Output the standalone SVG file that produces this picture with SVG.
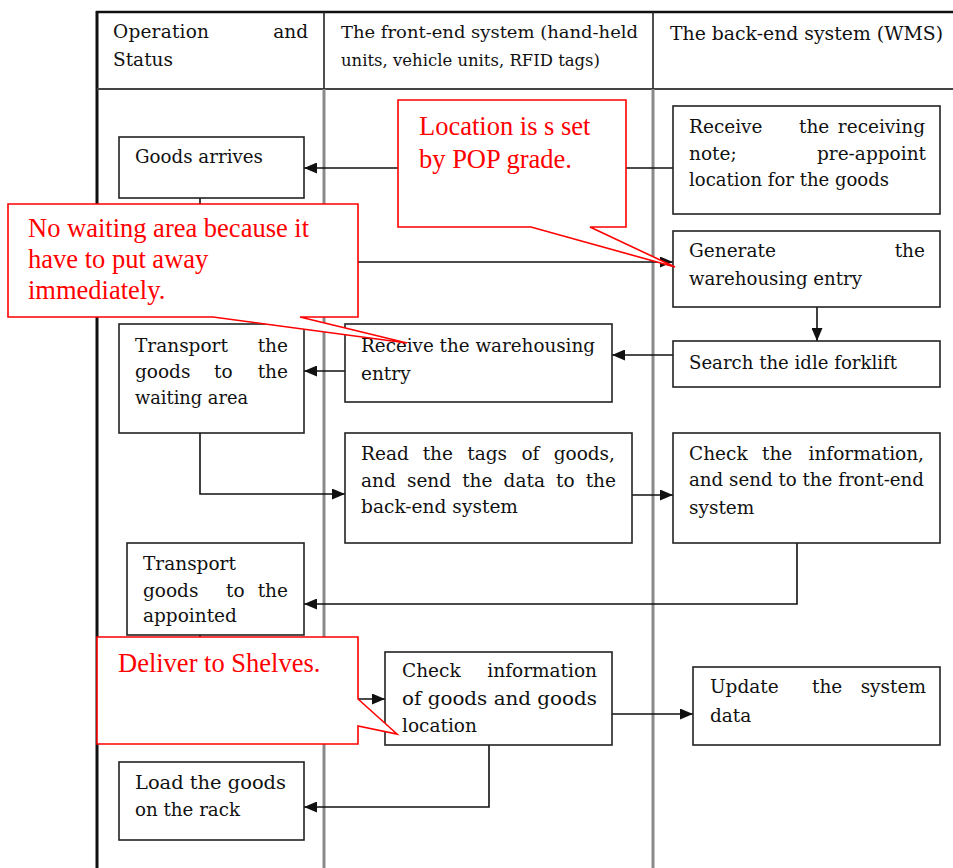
<svg xmlns="http://www.w3.org/2000/svg" width="953" height="868" viewBox="0 0 953 868">
  <style>
    .t { font-family: "DejaVu Serif", "Liberation Serif", serif; font-size: 18.5px; fill: #111; }
    .h { font-family: "DejaVu Serif", "Liberation Serif", serif; font-size: 16.5px; fill: #111; }
    .box { fill: #fff; stroke: #222; stroke-width: 1.6; }
    .conn { fill: none; stroke: #111; stroke-width: 1.6; }
    .note { fill: #fff; stroke: #f00; stroke-width: 1.6; stroke-linejoin: miter; }
    .nt { font-family: "Liberation Serif", "Times New Roman", serif; font-size: 26.5px; fill: #f00; }
    .e { text-anchor: end; }
  </style>
  <defs>
    <marker id="arrow" markerUnits="userSpaceOnUse" markerWidth="14" markerHeight="11" refX="13" refY="5.5" orient="auto">
      <path d="M0,0 L13,5.5 L0,11 Z" fill="#111"/>
    </marker>
  </defs>

  <rect x="0" y="0" width="953" height="868" fill="#fff"/>

  <!-- swimlane table -->
  <g id="lanes">
    <line x1="96" y1="12" x2="953" y2="12" stroke="#111" stroke-width="2.5"/>
    <line x1="97" y1="11" x2="97" y2="868" stroke="#111" stroke-width="3"/>
    <line x1="97" y1="89" x2="953" y2="89" stroke="#444" stroke-width="2"/>
    <line x1="324" y1="12" x2="324" y2="89" stroke="#222" stroke-width="1.6"/>
    <line x1="653" y1="12" x2="653" y2="89" stroke="#222" stroke-width="1.6"/>
    <line x1="324" y1="89" x2="324" y2="868" stroke="#8a8a8a" stroke-width="3"/>
    <line x1="653" y1="89" x2="653" y2="868" stroke="#8a8a8a" stroke-width="3"/>
    <text class="t" x="113" y="38" textLength="96">Operation</text>
    <text class="t e" x="308" y="38">and</text>
    <text class="t" x="113" y="66">Status</text>
    <text class="h" x="341" y="38" textLength="297" lengthAdjust="spacingAndGlyphs">The front-end system (hand-held</text>
    <text class="h" x="341" y="66" textLength="259" lengthAdjust="spacingAndGlyphs">units, vehicle units, RFID tags)</text>
    <text class="t" x="670" y="40" textLength="273" lengthAdjust="spacingAndGlyphs">The back-end system (WMS)</text>
  </g>

  <!-- connectors -->
  <g id="connectors">
    <path class="conn" d="M673,168 H304" marker-end="url(#arrow)"/>
    <path class="conn" d="M200,198 V262 H673" marker-end="url(#arrow)"/>
    <path class="conn" d="M817,307 V341" marker-end="url(#arrow)"/>
    <path class="conn" d="M673,355 H612" marker-end="url(#arrow)"/>
    <path class="conn" d="M345,371 H304" marker-end="url(#arrow)"/>
    <path class="conn" d="M200,433 V494 H345" marker-end="url(#arrow)"/>
    <path class="conn" d="M632,495 H673" marker-end="url(#arrow)"/>
    <path class="conn" d="M797,543 V604 H304" marker-end="url(#arrow)"/>
    <path class="conn" d="M200,635 V699 H385" marker-end="url(#arrow)"/>
    <path class="conn" d="M612,714 H693" marker-end="url(#arrow)"/>
    <path class="conn" d="M489,745 V807 H304" marker-end="url(#arrow)"/>
  </g>

  <g id="goods-arrives">
    <rect class="box" x="119" y="137" width="185" height="61"/>
    <text class="t" x="135" y="163" textLength="128" lengthAdjust="spacingAndGlyphs">Goods arrives</text>
  </g>

  <g id="receive-note">
    <rect class="box" x="673" y="106" width="267" height="108"/>
    <text class="t" x="689" y="133">Receive</text>
    <text class="t" x="799" y="133">the</text>
    <text class="t e" x="925" y="133">receiving</text>
    <text class="t" x="689" y="160">note;</text>
    <text class="t e" x="926" y="160">pre-appoint</text>
    <text class="t" x="689" y="186" textLength="200" lengthAdjust="spacingAndGlyphs">location for the goods</text>
  </g>

  <g id="generate-entry">
    <rect class="box" x="673" y="231" width="267" height="76"/>
    <text class="t" x="689" y="257">Generate</text>
    <text class="t e" x="925" y="257">the</text>
    <text class="t" x="689" y="285" textLength="173" lengthAdjust="spacingAndGlyphs">warehousing entry</text>
  </g>

  <g id="search-forklift">
    <rect class="box" x="673" y="341" width="267" height="46"/>
    <text class="t" x="689" y="369" textLength="208" lengthAdjust="spacingAndGlyphs">Search the idle forklift</text>
  </g>

  <g id="receive-entry">
    <rect class="box" x="345" y="324" width="267" height="78"/>
    <text class="t" x="361" y="352" textLength="234" lengthAdjust="spacingAndGlyphs">Receive the warehousing</text>
    <text class="t" x="361" y="380">entry</text>
  </g>

  <g id="transport-waiting">
    <rect class="box" x="119" y="324" width="185" height="109"/>
    <text class="t" x="135" y="352">Transport</text>
    <text class="t e" x="288" y="352">the</text>
    <text class="t" x="135" y="378">goods</text>
    <text class="t" x="214" y="378">to</text>
    <text class="t e" x="288" y="378">the</text>
    <text class="t" x="135" y="404" textLength="113" lengthAdjust="spacingAndGlyphs">waiting area</text>
  </g>

  <g id="read-tags">
    <rect class="box" x="345" y="433" width="287" height="110"/>
    <text class="t" x="361" y="460">Read</text>
    <text class="t" x="422.7" y="460">the</text>
    <text class="t" x="467.3" y="460">tags</text>
    <text class="t" x="521.4" y="460">of</text>
    <text class="t e" x="615" y="460">goods,</text>
    <text class="t" x="361" y="487">and</text>
    <text class="t" x="406.9" y="487">send</text>
    <text class="t" x="462.2" y="487">the</text>
    <text class="t" x="503.6" y="487">data</text>
    <text class="t" x="556" y="487">to</text>
    <text class="t e" x="616" y="487">the</text>
    <text class="t" x="361" y="513" textLength="157" lengthAdjust="spacingAndGlyphs">back-end system</text>
  </g>

  <g id="check-information">
    <rect class="box" x="673" y="433" width="267" height="110"/>
    <text class="t" x="689" y="460">Check</text>
    <text class="t" x="762" y="460">the</text>
    <text class="t e" x="924" y="460">information,</text>
    <text class="t" x="689" y="486" textLength="235" lengthAdjust="spacingAndGlyphs">and send to the front-end</text>
    <text class="t" x="689" y="514">system</text>
  </g>

  <g id="transport-appointed">
    <rect class="box" x="127" y="543" width="177" height="92"/>
    <text class="t" x="143" y="570">Transport</text>
    <text class="t" x="143" y="597">goods</text>
    <text class="t" x="226" y="597">to</text>
    <text class="t e" x="288" y="597">the</text>
    <text class="t" x="143" y="622">appointed</text>
  </g>

  <g id="check-location">
    <rect class="box" x="385" y="652" width="227" height="93"/>
    <text class="t" x="402" y="677">Check</text>
    <text class="t e" x="597" y="677">information</text>
    <text class="t" x="402" y="705" textLength="195" lengthAdjust="spacingAndGlyphs">of goods and goods</text>
    <text class="t" x="402" y="732">location</text>
  </g>

  <g id="update-data">
    <rect class="box" x="693" y="667" width="247" height="78"/>
    <text class="t" x="710" y="693">Update</text>
    <text class="t" x="812" y="693">the</text>
    <text class="t e" x="926" y="693">system</text>
    <text class="t" x="710" y="722">data</text>
  </g>

  <g id="load-rack">
    <rect class="box" x="119" y="762" width="185" height="78"/>
    <text class="t" x="135" y="789" textLength="151" lengthAdjust="spacingAndGlyphs">Load the goods</text>
    <text class="t" x="135" y="816" textLength="105" lengthAdjust="spacingAndGlyphs">on the rack</text>
  </g>

  <!-- red callout notes -->
  <g id="note-pop">
    <path class="note" d="M398,100 H626 V227 H590 L675,267 L531,227 H398 Z"/>
    <text class="nt" x="419" y="135">Location is s set</text>
    <text class="nt" x="419" y="168">by POP grade.</text>
  </g>

  <g id="note-waiting">
    <path class="note" d="M8,204 H358 V317 H300 L407,343 L213,317 H8 Z"/>
    <text class="nt" x="28" y="237">No waiting area because it</text>
    <text class="nt" x="28" y="268">have to put away</text>
    <text class="nt" x="28" y="299">immediately.</text>
  </g>

  <g id="note-shelves">
    <path class="note" d="M97,637 H358 V699 L397,734 L358,726 V744 H97 Z"/>
    <text class="nt" x="118" y="672">Deliver to Shelves.</text>
  </g>
</svg>
